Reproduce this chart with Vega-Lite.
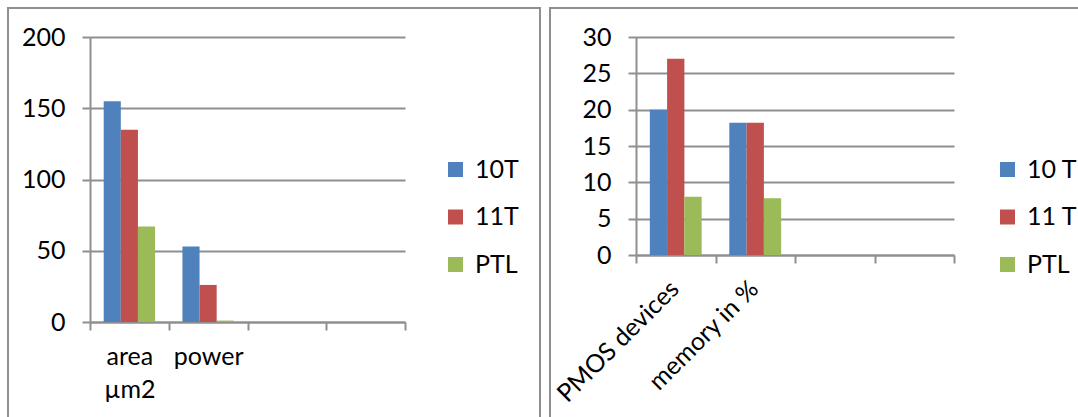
{
  "$schema": "https://vega.github.io/schema/vega-lite/v6.json",
  "padding": {"left": 7, "top": 7, "right": 0, "bottom": 0},
  "background": "white",
  "datasets": {
    "cost": [
      {"metric": "area µm2", "cell": "10T", "value": 155},
      {"metric": "area µm2", "cell": "11T", "value": 135},
      {"metric": "area µm2", "cell": "PTL", "value": 67},
      {"metric": "power", "cell": "10T", "value": 53},
      {"metric": "power", "cell": "11T", "value": 26},
      {"metric": "power", "cell": "PTL", "value": 1}
    ],
    "count": [
      {"metric": "PMOS devices", "cell": "10 T", "value": 20},
      {"metric": "PMOS devices", "cell": "11 T", "value": 27},
      {"metric": "PMOS devices", "cell": "PTL", "value": 8},
      {"metric": "memory in %", "cell": "10 T", "value": 18.2},
      {"metric": "memory in %", "cell": "11 T", "value": 18.2},
      {"metric": "memory in %", "cell": "PTL", "value": 7.8}
    ]
  },
  "spacing": 8,
  "hconcat": [
    {
      "width": 532,
      "height": 412,
      "data": {"name": "cost"},
      "mark": {"type": "bar"},
      "encoding": {
        "x": {
          "field": "metric",
          "type": "nominal",
          "sort": null,
          "scale": {"domain": ["area µm2", "power", "", " "], "range": [82, 397], "paddingInner": 0, "paddingOuter": 0},
          "axis": {"orient": "bottom", "offset": -98, "tickBand": "extent", "labelAngle": 0, "labelPadding": 14, "labelLineHeight": 33, "labelBaseline": "top", "labelExpr": "split(datum.label, ' ')", "grid": false}
        },
        "xOffset": {"field": "cell", "type": "nominal", "sort": null, "scale": {"paddingInner": 0, "paddingOuter": 0.8}},
        "y": {
          "field": "value",
          "type": "quantitative",
          "scale": {"domain": [0, 200], "nice": false, "range": [314, 29]},
          "axis": {"offset": -82, "values": [0, 50, 100, 150, 200], "grid": true, "labelPadding": 17}
        },
        "color": {
          "field": "cell",
          "type": "nominal",
          "sort": null,
          "scale": {"domain": ["10T", "11T", "PTL"], "range": ["#4F81BD", "#C0504D", "#9BBB59"]},
          "legend": {"orient": "none", "legendX": 435, "legendY": 149}
        }
      }
    },
    {
      "width": 531,
      "height": 412,
      "data": {"name": "count"},
      "mark": {"type": "bar"},
      "encoding": {
        "x": {
          "field": "metric",
          "type": "nominal",
          "sort": null,
          "scale": {"domain": ["PMOS devices", "memory in %", "", " "], "range": [86, 404], "paddingInner": 0, "paddingOuter": 0},
          "axis": {"orient": "bottom", "offset": -165, "tickBand": "extent", "labelAngle": -45, "labelPadding": 13, "labelOffset": -10, "grid": false}
        },
        "xOffset": {"field": "cell", "type": "nominal", "sort": null, "scale": {"paddingInner": 0, "paddingOuter": 0.8}},
        "y": {
          "field": "value",
          "type": "quantitative",
          "scale": {"domain": [0, 30], "nice": false, "range": [247, 29]},
          "axis": {"offset": -86, "values": [0, 5, 10, 15, 20, 25, 30], "grid": true, "labelPadding": 17}
        },
        "color": {
          "field": "cell",
          "type": "nominal",
          "sort": null,
          "scale": {"domain": ["10 T", "11 T", "PTL"], "range": ["#4F81BD", "#C0504D", "#9BBB59"]},
          "legend": {"orient": "none", "legendX": 445, "legendY": 149}
        }
      }
    }
  ],
  "resolve": {
    "scale": {"x": "independent", "y": "independent", "xOffset": "independent", "color": "independent"},
    "legend": {"color": "independent"}
  },
  "config": {
    "view": {"stroke": "#8f8f8f", "strokeWidth": 2},
    "font": "Lato",
    "axis": {
      "title": null,
      "labelFont": "Lato",
      "labelFontSize": 25,
      "labelColor": "#000000",
      "domainColor": "#8f8f8f",
      "domainWidth": 2,
      "tickColor": "#8f8f8f",
      "tickWidth": 2,
      "tickSize": 8,
      "gridColor": "#8f8f8f",
      "gridWidth": 2
    },
    "legend": {
      "title": null,
      "labelFont": "Lato",
      "labelFontSize": 25,
      "labelColor": "#000000",
      "symbolType": "square",
      "symbolSize": 225,
      "symbolStrokeWidth": 0,
      "symbolOpacity": 1,
      "rowPadding": 21.5,
      "labelOffset": 7,
      "padding": 0
    }
  }
}
